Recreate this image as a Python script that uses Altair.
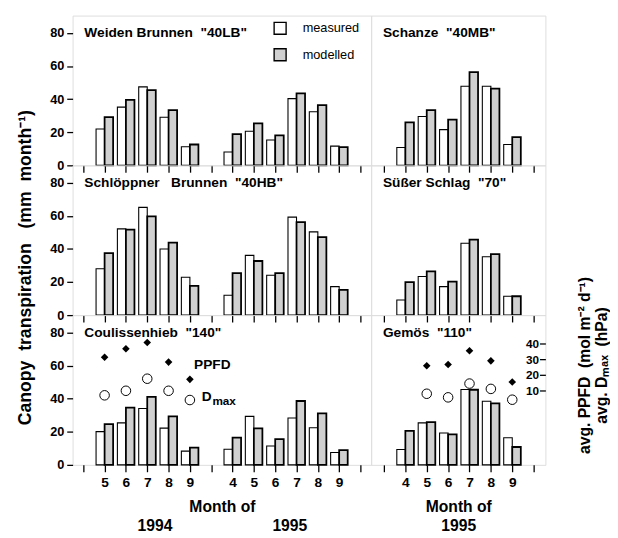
import json
import altair as alt
import pandas as pd

FONT = "Liberation Sans"
NB = "\u00a0"

# ---------------- data ----------------
months_1994 = [5, 6, 7, 8, 9]
months_1995 = [4, 5, 6, 7, 8, 9]
series = ["measured", "modelled"]
panel_names = [
    "Weiden Brunnen" + NB + NB + "\"40LB\"",
    "Schanze" + NB + NB + "\"40MB\"",
    "Schl\u00f6ppner" + NB + NB + NB + "Brunnen" + NB + NB + "\"40HB\"",
    "S\u00fc\u00dfer Schlag" + NB + NB + "\"70\"",
    "Coulissenhieb" + NB + NB + "\"140\"",
    "Gem\u00f6s" + NB + NB + "\"110\"",
]

# Weiden Brunnen "40LB"
lb_meas_94 = [22.0, 35.2, 47.4, 29.1, 11.2]
lb_mod_94 = [29.1, 39.5, 45.4, 33.4, 12.6]
lb_meas_95 = [8.1, 20.6, 15.3, 40.3, 32.4, 11.6]
lb_mod_95 = [18.9, 25.4, 18.1, 43.5, 36.4, 11.0]
# Schanze "40MB"
mb_meas_95 = [10.8, 29.5, 21.6, 47.8, 47.8, 12.6]
mb_mod_95 = [26.0, 33.4, 27.7, 56.4, 46.4, 17.1]
# Schlöppner Brunnen "40HB"
hb_meas_94 = [28.0, 52.1, 65.1, 40.0, 22.9]
hb_mod_94 = [37.5, 51.7, 59.6, 43.8, 17.6]
hb_meas_95 = [12.0, 36.1, 24.1, 59.2, 50.3, 17.2]
hb_mod_95 = [25.4, 32.7, 25.4, 56.2, 47.1, 15.2]
# Süßer Schlag "70"
ss_meas_95 = [9.1, 23.3, 17.2, 43.4, 35.3, 11.4]
ss_mod_95 = [19.9, 26.4, 20.3, 45.6, 36.9, 11.4]
# Coulissenhieb "140"
co_meas_94 = [20.1, 25.4, 34.1, 22.2, 8.3]
co_mod_94 = [24.6, 34.6, 41.1, 29.3, 10.4]
co_meas_95 = [9.4, 29.3, 11.4, 28.3, 22.4, 7.5]
co_mod_95 = [16.5, 22.0, 15.6, 38.6, 31.1, 8.9]
# Gemös "110"
ge_meas_95 = [9.3, 25.4, 19.3, 45.6, 38.5, 16.4]
ge_mod_95 = [20.5, 25.8, 18.5, 45.4, 37.1, 10.8]

# avg. PPFD and avg. Dmax (secondary axis)
co_ppfd_months = [5, 6, 7, 8, 9]
co_ppfd_94 = [31.2, 36.6, 40.6, 28.1, 17.1]
co_dmax_94 = [6.9, 9.8, 17.5, 9.8, 3.9]
ge_ppfd_months = [5, 6, 7, 8, 9]
ge_ppfd_95 = [25.8, 26.6, 35.4, 28.9, 15.4]
ge_dmax_95 = [7.9, 5.6, 14.4, 11.0, 4.1]

left_tick_labels = ["", "5", "6", "7", "8", "9", "", "4", "5", "6", "7", "8", "9", ""]
right_tick_labels = ["", "4", "5", "6", "7", "8", "9", ""]
sec_ticks = [10, 20, 30, 40]
y_ticks = [0, 20, 40, 60, 80]

# ---------------- helpers ----------------
W_L, W_R, H = 305, 178, 153
XD_L, XD_R = [-0.5, 13.5], [-0.6, 7.55]
YD = [0, 90.5]
YD2 = [-37.5, 58.1]


def pos_left(m, year):
    return m - 4 if year == 1994 else m + 3


def pos_right(m):
    return m - 3


def left_df(me94, mo94, me95, mo95):
    rows = []
    for m, a, b in zip(months_1994, me94, mo94):
        rows.append(dict(pos=pos_left(m, 1994), series="measured", value=a))
        rows.append(dict(pos=pos_left(m, 1994), series="modelled", value=b))
    for m, a, b in zip(months_1995, me95, mo95):
        rows.append(dict(pos=pos_left(m, 1995), series="measured", value=a))
        rows.append(dict(pos=pos_left(m, 1995), series="modelled", value=b))
    return pd.DataFrame(rows)


def right_df(me, mo):
    rows = []
    for m, a, b in zip(months_1995, me, mo):
        rows.append(dict(pos=pos_right(m), series="measured", value=a))
        rows.append(dict(pos=pos_right(m), series="modelled", value=b))
    return pd.DataFrame(rows)


def name_layer(name):
    return alt.Chart(pd.DataFrame({"t": [name]})).mark_text(
        align="left", baseline="alphabetic", font=FONT, fontSize=14, fontWeight="bold",
        color="black").encode(text="t:N", x=alt.value(12), y=alt.value(22))


def xscale(xdom):
    return alt.Scale(domain=xdom, nice=False, zero=False)


def make_xaxis(labels, bottom, xtitle=None):
    if bottom:
        kw = dict(labelExpr=json.dumps(labels) + "[datum.value]",
                  labelFont=FONT, labelFontSize=14, labelFontWeight="bold",
                  labelPadding=4, labelColor="black", labelOverlap=False,
                  title=xtitle, titleFont=FONT, titleFontSize=16, titleFontWeight="bold",
                  titlePadding=10, titleLineHeight=19, titleColor="black")
    else:
        kw = dict(labels=False, title=None)
    return alt.Axis(values=list(range(len(labels))), grid=False, domain=False, tickSize=7,
                    tickColor="black", tickWidth=1.3, **kw)


def bars(df, xdom, xaxis, show_y, legend, ytitle=None):
    if show_y:
        ykw = dict(values=y_ticks, grid=False, domain=False, tickSize=6, tickColor="black",
                   tickWidth=1.3, labelFont=FONT, labelFontSize=13, labelFontWeight="bold",
                   labelPadding=3, labelColor="black")
        if ytitle:
            ykw.update(title=ytitle, titleFont=FONT, titleFontSize=18, titleFontWeight="bold",
                       titlePadding=16, titleColor="black", titleY=104)
        else:
            ykw.update(title=None)
        yaxis = alt.Axis(**ykw)
    else:
        yaxis = None
    if legend:
        leg = alt.Legend(orient="none", legendX=205, legendY=6, title=None, symbolType="square",
                         symbolSize=150, symbolStrokeColor="black", symbolStrokeWidth=1.4,
                         labelFont=FONT, labelFontSize=13, labelColor="black", labelOffset=16,
                         rowPadding=9, padding=0)
    else:
        leg = None
    return alt.Chart(df).transform_calculate(
        x0="datum.pos + (datum.series == 'measured' ? -0.4 : 0)",
        x1="datum.pos + (datum.series == 'measured' ? 0 : 0.4)",
    ).mark_bar(stroke="black").encode(
        x=alt.X("x0:Q", scale=xscale(xdom), axis=xaxis),
        x2="x1:Q",
        y=alt.Y("value:Q", scale=alt.Scale(domain=YD, nice=False), axis=yaxis),
        y2=alt.datum(0),
        fill=alt.Fill("series:N", scale=alt.Scale(domain=series, range=["#ffffff", "#d0d0d0"]),
                      legend=leg),
        strokeWidth=alt.condition("datum.series == 'modelled'", alt.value(1.8), alt.value(1.1)),
    )


def sec_df(months, ppfd, dmax, posf):
    return pd.DataFrame(dict(pos=[posf(m) for m in months], ppfd=ppfd, dmax=dmax))


def sec_layers(df, xdom, xaxis, with_axis, width):
    xs = alt.X("pos:Q", scale=xscale(xdom), axis=xaxis)
    if with_axis:
        tax = alt.Axis(orient="right", domain=False, ticks=False, labels=False, grid=False,
                       title=["avg." + NB + "PPFD" + NB + NB + "(mol" + NB + "m\u207b\u00b2" + NB
                              + "d\u207b\u00b9)",
                              "avg." + NB + "D\u2098\u2090\u2093" + NB + NB + "(hPa)"],
                       titleFont=FONT, titleFontSize=16, titleFontWeight="bold", titleColor="black",
                       titleAngle=270, titleLineHeight=17, titlePadding=31, titleY=51)
        lax = alt.Axis(orient="left", offset=-width, values=sec_ticks, domain=False, grid=False,
                       tickSize=6, tickColor="black", tickWidth=1.3, labelFont=FONT,
                       labelFontSize=12, labelFontWeight="bold", labelPadding=1,
                       labelColor="black", title=None)
    else:
        tax = None
        lax = None
    ppfd = alt.Chart(df).mark_point(shape="diamond", filled=True, color="black", size=60,
                                    opacity=1).encode(
        x=xs, y=alt.Y("ppfd:Q", scale=alt.Scale(domain=YD2, nice=False, zero=False), axis=tax))
    dmax = alt.Chart(df).mark_point(shape="circle", filled=False, stroke="black", fill="white",
                                    fillOpacity=1, strokeWidth=1, size=95, opacity=1).encode(
        x=xs, y=alt.Y("dmax:Q", scale=alt.Scale(domain=YD2, nice=False, zero=False), axis=lax))
    return [ppfd, dmax]


# ---------------- panels ----------------
ax_top_l = make_xaxis(left_tick_labels, False)
ax_top_r = make_xaxis(right_tick_labels, False)
ax_bot_l = make_xaxis(left_tick_labels, True, ["Month of", "1994" + NB * 23 + "1995"])
ax_bot_r = make_xaxis(right_tick_labels, True, ["Month of", "1995"])

p_lb = alt.layer(
    bars(left_df(lb_meas_94, lb_mod_94, lb_meas_95, lb_mod_95), XD_L, ax_top_l, True, True),
    name_layer(panel_names[0])).properties(width=W_L, height=H)
p_mb = alt.layer(
    bars(right_df(mb_meas_95, mb_mod_95), XD_R, ax_top_r, False, False),
    name_layer(panel_names[1])).properties(width=W_R, height=H)
p_hb = alt.layer(
    bars(left_df(hb_meas_94, hb_mod_94, hb_meas_95, hb_mod_95), XD_L, ax_top_l, True, False,
         ytitle="Canopy" + NB + NB + "transpiration" + NB + NB + NB + "(mm" + NB + NB
         + "month\u207b\u00b9)"),
    name_layer(panel_names[2])).properties(width=W_L, height=H)
p_ss = alt.layer(
    bars(right_df(ss_meas_95, ss_mod_95), XD_R, ax_top_r, False, False),
    name_layer(panel_names[3])).properties(width=W_R, height=H)

co_sec = sec_df(co_ppfd_months, co_ppfd_94, co_dmax_94, lambda m: pos_left(m, 1994))
ge_sec = sec_df(ge_ppfd_months, ge_ppfd_95, ge_dmax_95, pos_right)

co_bars = bars(left_df(co_meas_94, co_mod_94, co_meas_95, co_mod_95), XD_L, ax_bot_l, True, False)
co_pts = sec_layers(co_sec, XD_L, ax_bot_l, False, W_L)

# annotations attached to data points
ann_x = alt.X("pos:Q", scale=xscale(XD_L), axis=ax_bot_l)
ann_s = alt.Scale(domain=YD2, nice=False, zero=False)
ppfd_lab = alt.Chart(co_sec.iloc[[3]].assign(t="PPFD")).mark_text(
    align="left", baseline="middle", dx=26, dy=3, font=FONT, fontSize=14, fontWeight="bold",
    color="black").encode(x=ann_x, y=alt.Y("ppfd:Q", scale=ann_s, axis=None), text="t:N")
d_lab = alt.Chart(co_sec.iloc[[4]].assign(t="D")).mark_text(
    align="left", baseline="middle", dx=12, dy=-3, font=FONT, fontSize=14, fontWeight="bold",
    color="black").encode(x=ann_x, y=alt.Y("dmax:Q", scale=ann_s, axis=None), text="t:N")
max_lab = alt.Chart(co_sec.iloc[[4]].assign(t="max")).mark_text(
    align="left", baseline="middle", dx=23, dy=1, font=FONT, fontSize=12, fontWeight="bold",
    color="black").encode(x=ann_x, y=alt.Y("dmax:Q", scale=ann_s, axis=None), text="t:N")

p_co = alt.layer(co_bars, *co_pts, ppfd_lab, d_lab, max_lab,
                 name_layer(panel_names[4])).resolve_scale(
    y="independent").properties(width=W_L, height=H)

ge_bars = bars(right_df(ge_meas_95, ge_mod_95), XD_R, ax_bot_r, False, False)
ge_pts = sec_layers(ge_sec, XD_R, ax_bot_r, True, W_R)
p_ge = alt.layer(ge_bars, *ge_pts, name_layer(panel_names[5])).resolve_scale(
    y="independent").properties(width=W_R, height=H)

chart = alt.concat(p_lb, p_mb, p_hb, p_ss, p_co, p_ge, columns=2, spacing=0,
                   bounds="flush").resolve_scale(
    x="independent", y="independent", fill="independent").resolve_legend(
    fill="independent").properties(
    padding={"top": 1, "left": 8, "right": 0, "bottom": 0}
).configure_view(stroke="black", strokeWidth=1.3).configure_axis(
    labelOverlap=False).configure(background="white")

chart.save("out.html", embed_options={"renderer": "svg", "actions": False})
